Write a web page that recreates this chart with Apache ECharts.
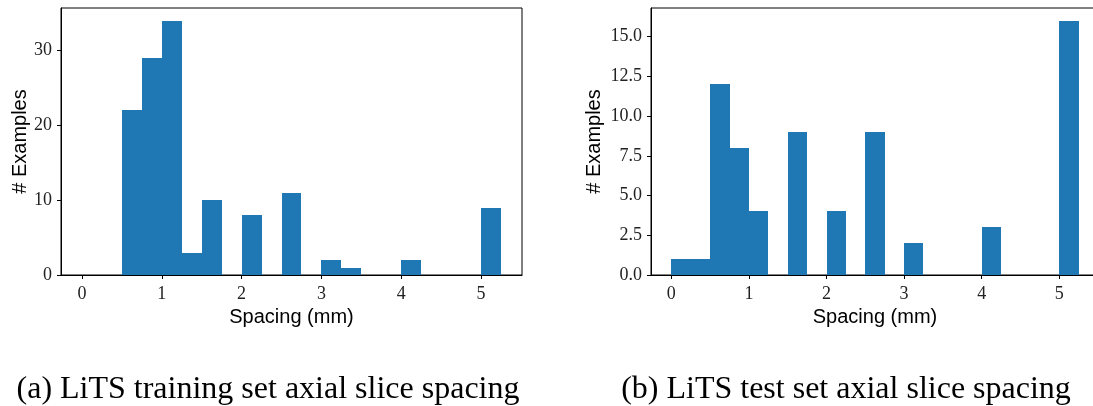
<!DOCTYPE html>
<html>
<head>
<meta charset="utf-8">
<script src="https://cdn.jsdelivr.net/npm/echarts@6/dist/echarts.min.js"></script>
<style>
html,body{margin:0;padding:0;background:#fff;}
#chart{width:1093px;height:406px;}
</style>
</head>
<body>
<div id="chart"></div>
<script>
// Histogram bin edges (mm), 0.25 mm wide bins
const binEdges = [0, 0.25, 0.5, 0.75, 1.0, 1.25, 1.5, 1.75, 2.0, 2.25, 2.5, 2.75, 3.0, 3.25, 3.5, 3.75, 4.0, 4.25, 4.5, 4.75, 5.0, 5.25];
// Counts per bin
const trainCounts = [0, 0, 22, 29, 34, 3, 10, 0, 8, 0, 11, 0, 2, 1, 0, 0, 2, 0, 0, 0, 9];
const testCounts  = [1, 1, 12, 8, 4, 0, 9, 0, 4, 0, 9, 0, 2, 0, 0, 0, 3, 0, 0, 0, 16];
// Tick labels
const xTicks = [0, 1, 2, 3, 4, 5];
const trainYTicks = [0, 10, 20, 30];
const testYTicks = [0, 2.5, 5.0, 7.5, 10.0, 12.5, 15.0];
// Texts
const xName = 'Spacing (mm)';
const yName = '# Examples';
const captionA = '(a) LiTS training set axial slice spacing';
const captionB = '(b) LiTS test set axial slice spacing';

const BLUE = '#1f77b4';
const SERIF = '"Liberation Serif", "DejaVu Serif", serif';
const SANS = '"Liberation Sans", "DejaVu Sans", sans-serif';

function histData(counts) {
  const out = [];
  for (let i = 0; i < counts.length; i++) {
    if (counts[i] > 0) out.push([binEdges[i], binEdges[i + 1], counts[i]]);
  }
  return out;
}
function renderBar(params, api) {
  const p0 = api.coord([api.value(0), 0]);
  const p1 = api.coord([api.value(1), api.value(2)]);
  const x0 = Math.round(p0[0]), x1 = Math.round(p1[0]);
  const yTop = Math.round(p1[1]), yBot = Math.round(p0[1]);
  return {
    type: 'rect',
    shape: { x: x0, y: yTop, width: x1 - x0, height: yBot - yTop },
    style: { fill: BLUE }
  };
}
const xmin = binEdges[0] - 0.05 * (binEdges[binEdges.length - 1] - binEdges[0]);
const xmax = binEdges[binEdges.length - 1] + 0.05 * (binEdges[binEdges.length - 1] - binEdges[0]);

function xAxisCfg(gi) {
  return {
    type: 'value', gridIndex: gi, min: xmin, max: xmax,
    name: xName, nameLocation: 'middle', nameGap: 32,
    nameTextStyle: { fontFamily: SANS, fontSize: 20, color: '#000' },
    axisLine: { show: true, onZero: false, lineStyle: { color: '#000', width: 1 } },
    axisTick: { show: true, length: 4, customValues: xTicks, lineStyle: { color: '#000' } },
    axisLabel: { customValues: xTicks, fontFamily: SERIF, fontSize: 18, color: '#222', margin: 10 },
    splitLine: { show: false }
  };
}
function yAxisCfg(gi, max, ticks, dec, gap) {
  return {
    type: 'value', gridIndex: gi, min: 0, max: max,
    name: yName, nameLocation: 'middle', nameGap: gap, nameRotate: 90,
    nameTextStyle: { fontFamily: SANS, fontSize: 20, color: '#000' },
    axisLine: { show: true, onZero: false, lineStyle: { color: '#000', width: 1 } },
    axisTick: { show: true, length: 4, customValues: ticks, lineStyle: { color: '#000' } },
    axisLabel: { customValues: ticks, fontFamily: SERIF, fontSize: 18, color: '#222', margin: 9,
      formatter: v => v.toFixed(dec) },
    splitLine: { show: false }
  };
}

const chart = echarts.init(document.getElementById('chart'), null, { renderer: 'canvas' });
chart.setOption({
  animation: false,
  backgroundColor: '#fff',
  grid: [
    { left: 61, top: 8, width: 461, height: 267, show: true, borderColor: '#000', borderWidth: 1, backgroundColor: 'transparent', outerBoundsMode: 'none' },
    { left: 651, top: 8, width: 448, height: 267, show: true, borderColor: '#000', borderWidth: 1, backgroundColor: 'transparent', outerBoundsMode: 'none' }
  ],
  xAxis: [xAxisCfg(0), xAxisCfg(1)],
  yAxis: [
    yAxisCfg(0, Math.max(...trainCounts) * 1.05, trainYTicks, 0, 31),
    yAxisCfg(1, Math.max(...testCounts) * 1.05, testYTicks, 1, 47)
  ],
  series: [
    { type: 'custom', xAxisIndex: 0, yAxisIndex: 0, renderItem: renderBar, data: histData(trainCounts), encode: { x: [0, 1], y: 2 } },
    { type: 'custom', xAxisIndex: 1, yAxisIndex: 1, renderItem: renderBar, data: histData(testCounts), encode: { x: [0, 1], y: 2 } }
  ],
  graphic: [
    { type: 'text', x: 268, y: 390, style: { text: captionA, font: '32px ' + SERIF, fill: '#000', textAlign: 'center', textVerticalAlign: 'middle' } },
    { type: 'text', x: 846, y: 390, style: { text: captionB, font: '32px ' + SERIF, fill: '#000', textAlign: 'center', textVerticalAlign: 'middle' } }
  ]
});
</script>
</body>
</html>
